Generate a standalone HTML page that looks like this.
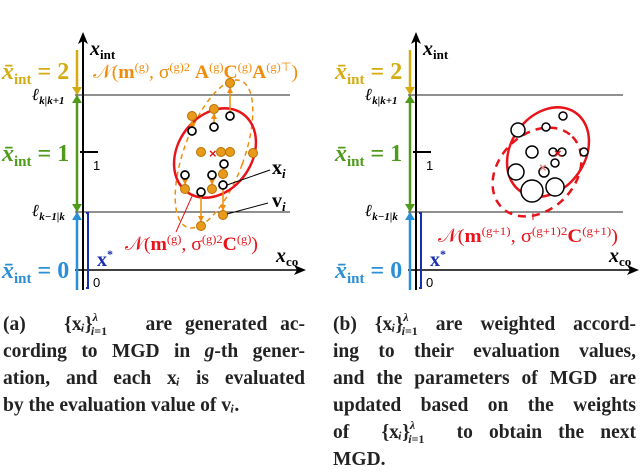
<!DOCTYPE html>
<html><head><meta charset="utf-8"><style>
body{margin:0;width:640px;height:470px;background:#fff;overflow:hidden;position:relative;font-family:"Liberation Serif",serif}
svg{position:absolute;left:0;top:0}
.cap{position:absolute;font-family:"Liberation Serif",serif;font-weight:bold;font-size:19.5px;line-height:27px;color:#222}
.cap div{text-align:justify;text-align-last:justify;white-space:nowrap;height:27px;overflow:visible}
.cap div.last{text-align-last:left}
.sup,.sub{font-size:12px;line-height:0;position:relative;vertical-align:baseline}
.sup{top:-9px}
.sub{top:5px;margin-left:-7px}
</style></head><body>
<svg width="640" height="300">
<defs>
<marker id="ab" markerUnits="userSpaceOnUse" markerWidth="12" markerHeight="12" refX="6" refY="6" orient="auto"><path d="M0,1 L12,6 L0,11 L3,6z" fill="#000"/></marker>
<marker id="ag" markerUnits="userSpaceOnUse" markerWidth="8" markerHeight="10" refX="7" refY="5" orient="auto"><path d="M0,0 L8,5 L0,10z" fill="#d4ac10"/></marker>
<marker id="agr" markerUnits="userSpaceOnUse" markerWidth="8" markerHeight="10" refX="7" refY="5" orient="auto"><path d="M0,0 L8,5 L0,10z" fill="#4f9a1a"/></marker>
<marker id="abl" markerUnits="userSpaceOnUse" markerWidth="8" markerHeight="10" refX="7" refY="5" orient="auto"><path d="M0,0 L8,5 L0,10z" fill="#2a8fd6"/></marker>
<marker id="ao" markerUnits="userSpaceOnUse" markerWidth="6" markerHeight="6" refX="5" refY="3" orient="auto"><path d="M0,0 L6,3 L0,6z" fill="#f08c0a"/></marker>
</defs>
<g id="pa"></g>
<g id="pb" transform="translate(333,0)"></g>
</svg>
<div class="cap" style="left:3px;top:311px;width:302px">
<div>(a) &nbsp; {x<i>ᵢ</i>}<span class="sup"><i>λ</i></span><span class="sub"><i>i</i>=1</span> &nbsp; are generated ac-</div>
<div>cording to MGD in <i>g</i>-th gener-</div>
<div>ation, and each x<i>ᵢ</i> is evaluated</div>
<div class="last">by the evaluation value of v<i>ᵢ</i>.</div>
</div>
<div class="cap" style="left:333px;top:311px;width:303px">
<div>(b) {x<i>ᵢ</i>}<span class="sup"><i>λ</i></span><span class="sub"><i>i</i>=1</span> are weighted accord-</div>
<div>ing to their evaluation values,</div>
<div>and the parameters of MGD are</div>
<div>updated based on the weights</div>
<div>of &nbsp;{x<i>ᵢ</i>}<span class="sup"><i>λ</i></span><span class="sub"><i>i</i>=1</span> &nbsp;to obtain the next</div>
<div class="last">MGD.</div>
</div>
<script>
const NS="http://www.w3.org/2000/svg";
function mk(p,t,a,txt){const e=document.createElementNS(NS,t);for(const k in a)e.setAttribute(k,a[k]);if(txt!==undefined)e.textContent=txt;p.appendChild(e);return e;}
function axes(g){
 mk(g,'line',{x1:83,y1:290,x2:83,y2:38,stroke:'#000','stroke-width':2,'marker-end':'url(#ab)'});
 mk(g,'line',{x1:75,y1:270,x2:300,y2:270,stroke:'#000','stroke-width':1.5,'marker-end':'url(#ab)'});
 mk(g,'line',{x1:75,y1:95,x2:290,y2:95,stroke:'#222','stroke-width':1});
 mk(g,'line',{x1:75,y1:212,x2:290,y2:212,stroke:'#222','stroke-width':1});
 mk(g,'line',{x1:80,y1:152,x2:98,y2:152,stroke:'#000','stroke-width':2});
 mk(g,'text',{x:93,y:170,'font-family':'Liberation Sans','font-size':13},'1');
 mk(g,'text',{x:93,y:287,'font-family':'Liberation Sans','font-size':13},'0');
 mk(g,'line',{x1:77,y1:50,x2:77,y2:94,stroke:'#d4ac10','stroke-width':2.5,'marker-end':'url(#ag)'});
 mk(g,'line',{x1:77,y1:150,x2:77,y2:96,stroke:'#4f9a1a','stroke-width':2.5,'marker-end':'url(#agr)'});
 mk(g,'line',{x1:77,y1:150,x2:77,y2:211,stroke:'#4f9a1a','stroke-width':2.5,'marker-end':'url(#agr)'});
 mk(g,'line',{x1:77,y1:290,x2:77,y2:213,stroke:'#2a8fd6','stroke-width':2.5,'marker-end':'url(#abl)'});
 mk(g,'path',{d:'M86,213 L88,213 L88,288 L86,288',stroke:'#1a2fb0','stroke-width':2,fill:'none'});
 const t=(x,y,c,v,n)=>{const e=mk(g,'text',{x:x,y:y,fill:c,'font-family':'Liberation Serif','font-size':24,'font-weight':'bold'});e.innerHTML='<tspan font-style="italic">x̄</tspan><tspan font-size="15" dy="5">int</tspan><tspan dy="-5"> = '+v+'</tspan>';};
 t(2,79,'#d4ac10','2','label-xint-2');t(2,161,'#4f9a1a','1','label-xint-1');t(2,278,'#2a8fd6','0','label-xint-0');
 const l=(y,s)=>{const e=mk(g,'text',{x:32,y:y,'font-family':'Liberation Serif','font-size':17,'font-weight':'bold','font-style':'italic'});e.innerHTML='ℓ<tspan font-size="11" dy="4">'+s+'</tspan>';};
 l(100,'k|k+1');l(216,'k−1|k');
 let e=mk(g,'text',{x:90,y:55,'font-family':'Liberation Serif','font-size':20,'font-weight':'bold','font-style':'italic'});e.innerHTML='x<tspan font-size="13" dy="4" font-style="normal">int</tspan>';
 e=mk(g,'text',{x:276,y:262,'font-family':'Liberation Serif','font-size':20,'font-weight':'bold','font-style':'italic'});e.innerHTML='x<tspan font-size="13" dy="4" font-style="normal">co</tspan>';
 e=mk(g,'text',{x:97,y:266,fill:'#1a2fb0','font-family':'Liberation Serif','font-size':20,'font-weight':'bold'});e.innerHTML='x<tspan font-size="12" dy="-8">*</tspan>';
}
const ga=document.getElementById('pa'),gb=document.getElementById('pb');
axes(ga);axes(gb);
// panel a
const openPts=[[230,116],[192,131],[214,127],[224,164],[185,175],[212,175],[223,185],[201,192]];
const movedPts=[[230,83],[214,109],[192,116],[201,152],[221,152],[230,152],[253,153],[223,174],[185,189],[212,189],[201,226],[223,215]];
mk(ga,'ellipse',{cx:214,cy:154,rx:30,ry:78,transform:'rotate(20 214 154)',fill:'none',stroke:'#f08c0a','stroke-width':1.5,'stroke-dasharray':'5,4'});
mk(ga,'ellipse',{cx:215,cy:153,rx:48,ry:37,transform:'rotate(-55 215 153)',fill:'none',stroke:'#e8141a','stroke-width':2.5});
[[0,0],[1,2],[2,1],[3,7],[4,8],[5,9],[7,10],[6,11]].forEach(([o,m])=>{const a=openPts[o],b=movedPts[m];mk(ga,'line',{x1:a[0],y1:a[1],x2:b[0],y2:b[1]+(b[1]<a[1]?5:-5),stroke:'#f08c0a','stroke-width':1.5,'marker-end':'url(#ao)'});});
movedPts.forEach(p=>{const c=mk(ga,'circle',{cx:p[0],cy:p[1],r:4.5,fill:'#e89a1a',stroke:'#b87000','stroke-width':1});});
openPts.forEach(p=>{const c=mk(ga,'circle',{cx:p[0],cy:p[1],r:4,fill:'#fff',stroke:'#000','stroke-width':1.7});});
mk(ga,'text',{x:209,y:158,fill:'#e8141a','font-size':13,'font-weight':'bold','font-family':'Liberation Sans'},'×');
mk(ga,'line',{x1:227,y1:185,x2:270,y2:170,stroke:'#000'});
mk(ga,'line',{x1:227,y1:214,x2:268,y2:203,stroke:'#000'});
let e=mk(ga,'text',{x:272,y:174,'font-size':20,'font-weight':'bold','font-family':'Liberation Serif'});e.innerHTML='x<tspan font-size="13" dy="4" font-style="italic">i</tspan>';
e=mk(ga,'text',{x:272,y:207,'font-size':20,'font-weight':'bold','font-family':'Liberation Serif'});e.innerHTML='v<tspan font-size="13" dy="4" font-style="italic">i</tspan>';
mk(ga,'line',{x1:193,y1:194,x2:176,y2:232,stroke:'#e8141a'});
e=mk(ga,'text',{x:93,y:78,fill:'#f08c0a','font-size':19,'font-family':'Liberation Serif',textLength:205,lengthAdjust:'spacingAndGlyphs'});e.innerHTML='𝒩(<tspan font-weight="bold">m</tspan><tspan font-size="12" dy="-7">(g)</tspan><tspan dy="7">, σ</tspan><tspan font-size="12" dy="-7">(g)2</tspan><tspan dy="7" font-weight="bold"> A</tspan><tspan font-size="12" dy="-7">(g)</tspan><tspan dy="7" font-weight="bold">C</tspan><tspan font-size="12" dy="-7">(g)</tspan><tspan dy="7" font-weight="bold">A</tspan><tspan font-size="12" dy="-7">(g)⊤</tspan><tspan dy="7">)</tspan>';
e=mk(ga,'text',{x:125,y:250,fill:'#e8141a','font-size':19,'font-family':'Liberation Serif',textLength:133,lengthAdjust:'spacingAndGlyphs'});e.innerHTML='𝒩(<tspan font-weight="bold">m</tspan><tspan font-size="12" dy="-7">(g)</tspan><tspan dy="7">, σ</tspan><tspan font-size="12" dy="-7">(g)2</tspan><tspan dy="7" font-weight="bold">C</tspan><tspan font-size="12" dy="-7">(g)</tspan><tspan dy="7">)</tspan>';
// panel b (coords relative to translate 333)
const wPts=[[185,130],[213,127],[230,116],[199,152],[220,152],[229,152],[251,152],[222,163],[211,172],[183,172],[199,191],[222,187]];
const wRad=[7,4,4,6,4,4,4,4,5,8,11,9];
mk(gb,'ellipse',{cx:215,cy:152,rx:48,ry:37,transform:'rotate(-55 215 152)',fill:'none',stroke:'#e8141a','stroke-width':2.5});
mk(gb,'ellipse',{cx:204,cy:172,rx:50,ry:38,transform:'rotate(-45 204 172)',fill:'none',stroke:'#e8141a','stroke-width':2.5,'stroke-dasharray':'8,6'});
wPts.forEach((p,i)=>{const c=mk(gb,'circle',{cx:p[0],cy:p[1],r:wRad[i],fill:'#fff',stroke:'#000','stroke-width':1.5});});
mk(gb,'text',{x:221,y:158,fill:'#e8141a','font-size':13,'font-weight':'bold','font-family':'Liberation Sans'},'×');
mk(gb,'text',{x:206,y:172,fill:'#f08080','font-size':13,'font-weight':'bold','font-family':'Liberation Sans'},'×');
mk(gb,'line',{x1:200,y1:213,x2:200,y2:220,stroke:'#e8141a'});
e=mk(gb,'text',{x:105,y:242,fill:'#e8141a','font-size':19,'font-family':'Liberation Serif',textLength:180,lengthAdjust:'spacingAndGlyphs'});e.innerHTML='𝒩(<tspan font-weight="bold">m</tspan><tspan font-size="12" dy="-7">(g+1)</tspan><tspan dy="7">, σ</tspan><tspan font-size="12" dy="-7">(g+1)2</tspan><tspan dy="7" font-weight="bold">C</tspan><tspan font-size="12" dy="-7">(g+1)</tspan><tspan dy="7">)</tspan>';
</script>
</body></html>
